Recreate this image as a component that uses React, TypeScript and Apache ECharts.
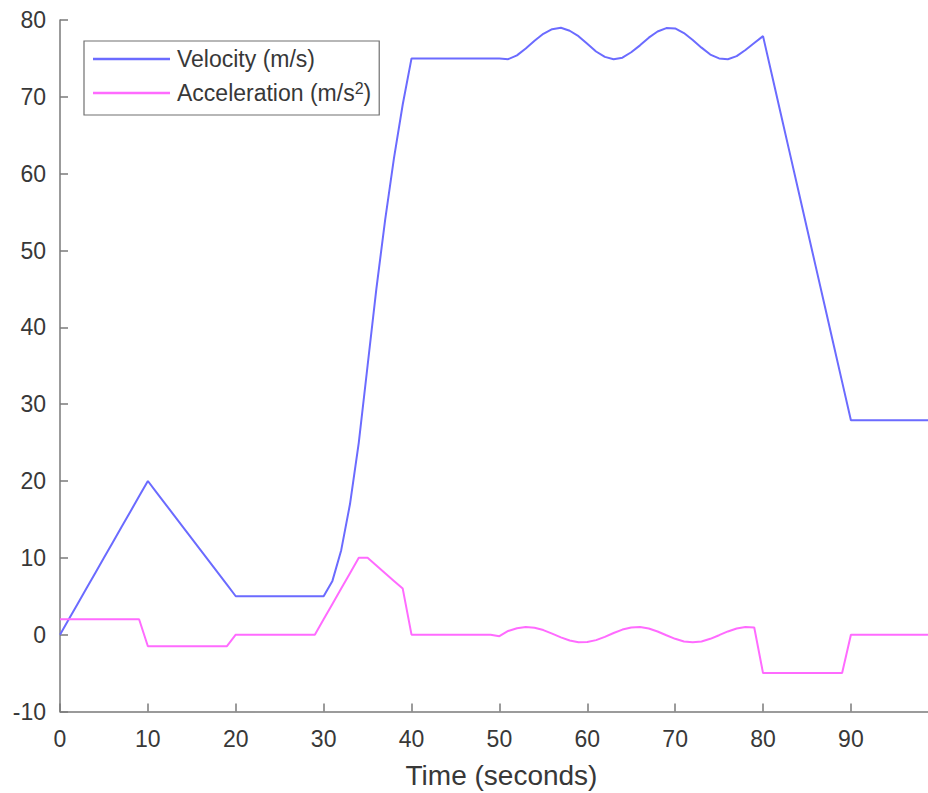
import React, { useEffect, useRef } from "react";
import * as echarts from "echarts";

// time samples (s)
const time: number[] = Array.from({ length: 100 }, (_, i) => i);

// velocity (m/s), one value per second
const velocity: number[] = [
  0, 2, 4, 6, 8, 10, 12, 14, 16, 18, 20,
  18.5, 17, 15.5, 14, 12.5, 11, 9.5, 8, 6.5, 5,
  5, 5, 5, 5, 5, 5, 5, 5, 5, 5,
  7, 11, 17, 25, 35, 45, 54, 62, 69, 75,
  75, 75, 75, 75, 75, 75, 75, 75, 75, 75,
  74.9, 75.4, 76.3, 77.3, 78.2, 78.8, 79.0, 78.6, 77.9, 76.9,
  75.9, 75.2, 74.9, 75.1, 75.8, 76.7, 77.7, 78.5, 78.95, 78.9,
  78.3, 77.4, 76.4, 75.5, 75.0, 74.9, 75.3, 76.1, 77.0, 77.9,
  72.9, 67.9, 62.9, 57.9, 52.9, 47.9, 42.9, 37.9, 32.9, 27.9,
  27.9, 27.9, 27.9, 27.9, 27.9, 27.9, 27.9, 27.9, 27.9,
];

// acceleration (m/s^2), one value per second
const acceleration: number[] = [
  2, 2, 2, 2, 2, 2, 2, 2, 2, 2,
  -1.5, -1.5, -1.5, -1.5, -1.5, -1.5, -1.5, -1.5, -1.5, -1.5,
  0, 0, 0, 0, 0, 0, 0, 0, 0, 0,
  2, 4, 6, 8, 10, 10, 9, 8, 7, 6,
  0, 0, 0, 0, 0, 0, 0, 0, 0, 0,
  -0.2, 0.48, 0.84, 1.0, 0.91, 0.6, 0.14, -0.35, -0.76, -0.98,
  -0.96, -0.71, -0.28, 0.22, 0.66, 0.94, 0.99, 0.8, 0.41, -0.08,
  -0.54, -0.88, -1.0, -0.88, -0.54, -0.07, 0.42, 0.8, 0.99, 0.94,
  -5, -5, -5, -5, -5, -5, -5, -5, -5, -5,
  0, 0, 0, 0, 0, 0, 0, 0, 0, 0,
];

const seriesNames = ["Velocity (m/s)", "Acceleration (m/s2)"];
const xTitle = "Time (seconds)";

const FONT = "'Liberation Sans', Arial, Helvetica, sans-serif";
const TEXT = "#383838";
const AXIS = "#7a7a7a";
const BLUE = "#6b6bff";
const PINK = "#ff6bff";

export default function App() {
  const ref = useRef<HTMLDivElement>(null);
  useEffect(() => {
    if (!ref.current) return;
    const chart = echarts.init(ref.current, undefined, { renderer: "svg" });
    chart.setOption({
      animation: false,
      backgroundColor: "#ffffff",
      grid: {
        left: 60,
        right: -2,
        top: 20,
        bottom: 81.5,
        containLabel: false,
        outerBoundsMode: "none",
      },
      legend: {
        orient: "vertical",
        left: 84,
        top: 41,
        padding: [5, 8, 9, 9],
        icon: "rect",
        itemWidth: 77,
        itemHeight: 2.5,
        itemGap: 8,
        selectedMode: false,
        backgroundColor: "#ffffff",
        borderColor: "#707070",
        borderWidth: 1.2,
        data: seriesNames,
        formatter: (name: string) =>
          name === seriesNames[1] ? "Acceleration (m/s{sup|2})" : name,
        textStyle: {
          fontFamily: FONT,
          fontSize: 23,
          lineHeight: 26,
          color: TEXT,
          padding: [0, 0, 0, 2],
          rich: {
            sup: {
              fontFamily: FONT,
              fontSize: 16,
              lineHeight: 14,
              verticalAlign: "top",
              color: TEXT,
            },
          },
        },
      },
      xAxis: {
        type: "value",
        min: 0,
        max: 99,
        interval: 10,
        name: xTitle,
        nameLocation: "middle",
        nameGap: 50,
        nameTextStyle: { fontFamily: FONT, fontSize: 28, color: TEXT, padding: [0, 0, 0, 13] },
        axisLine: { show: true, onZero: false, lineStyle: { color: AXIS, width: 1.5 } },
        axisTick: { show: true, inside: true, length: 8, lineStyle: { color: AXIS, width: 1.5 } },
        axisLabel: {
          fontFamily: FONT,
          fontSize: 23,
          color: TEXT,
          margin: 16,
          showMaxLabel: false,
        },
        splitLine: { show: false },
      },
      yAxis: {
        type: "value",
        min: -10,
        max: 80,
        interval: 10,
        axisLine: { show: true, onZero: false, lineStyle: { color: AXIS, width: 1.5 } },
        axisTick: { show: true, inside: true, length: 8, lineStyle: { color: AXIS, width: 1.5 } },
        axisLabel: { fontFamily: FONT, fontSize: 23, color: TEXT, margin: 14 },
        splitLine: { show: false },
      },
      series: [
        {
          name: seriesNames[0],
          type: "line",
          symbol: "none",
          data: time.map((t, i) => [t, velocity[i]]),
          lineStyle: { color: BLUE, width: 2 },
          itemStyle: { color: BLUE },
        },
        {
          name: seriesNames[1],
          type: "line",
          symbol: "none",
          data: time.map((t, i) => [t, acceleration[i]]),
          lineStyle: { color: PINK, width: 2 },
          itemStyle: { color: PINK },
        },
      ],
    });
    return () => chart.dispose();
  }, []);
  return (
    <div
      ref={ref}
      style={{ position: "fixed", left: 0, top: 0, width: 928, height: 793, background: "#fff" }}
    />
  );
}
